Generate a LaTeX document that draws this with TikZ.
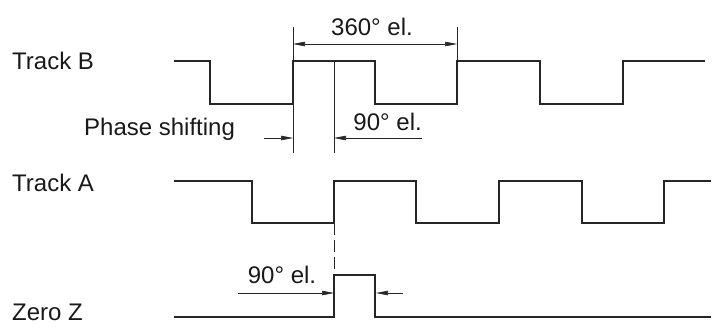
\documentclass[tikz,border=0pt]{standalone}
\usepackage{fontspec}
\setmainfont{Liberation Sans}
\usetikzlibrary{arrows.meta}
\begin{document}
\begin{tikzpicture}[x=1pt,y=-1pt,
  signal/.style={line width=1.5pt,line join=miter,color=black!85},
  thin/.style={line width=0.6pt,color=black!85},
  dimarrow/.style={thin,-{Stealth[length=12pt,width=4.5pt,inset=0pt]}},
  lbl/.style={inner sep=0pt,text height=17.2pt,text depth=0pt,font=\fontsize{24}{28}\selectfont,text=black!90}]
\useasboundingbox (0,0) rectangle (713,327);
% labels
\node[lbl,anchor=west] (tb) at (12,61) {Track B};
\node[lbl,anchor=west] (ta) at (12,183) {Track A};
\node[lbl,anchor=west] (zz) at (12,312) {Zero Z};
\node[lbl,anchor=west] (ps) at (84,127) {Phase shifting};
\node[lbl] (d360) at (372,27) {360° el.};
\node[lbl,anchor=east] (d90a) at (422,122) {90° el.};
\node[lbl] (d90b) at (282,275) {90° el.};
% waveforms
\draw[signal] (174,61) -- (210,61) -- (210,104) -- (293,104) -- (293,61) -- (375,61) -- (375,104) -- (457,104) -- (457,61) -- (540,61) -- (540,104) -- (623,104) -- (623,61) -- (705,61);
\draw[signal] (174,181) -- (252,181) -- (252,223) -- (334,223) -- (334,181) -- (416,181) -- (416,223) -- (499,223) -- (499,181) -- (582,181) -- (582,223) -- (664,223) -- (664,181) -- (711,181);
\draw[signal] (174,317) -- (334,317) -- (334,275) -- (375,275) -- (375,317) -- (711,317);
% extension lines
\coordinate (e1t) at (293,27); \coordinate (e1m) at (293,61);
\coordinate (e1l) at (293,104); \coordinate (e1b) at (293,153);
\coordinate (e2t) at (457,27); \coordinate (e2b) at (457,61);
\coordinate (e3t) at (334,61); \coordinate (e3b) at (334,153);
\draw[thin] (e1t) -- (e1m) (e1l) -- (e1b) (e2t) -- (e2b) (e3t) -- (e3b);
% dashed
\coordinate (dA) at (334,223); \coordinate (dZ) at (334,275);
\draw[thin,dash pattern=on 12pt off 5pt] (dA) -- (dZ);
% 360 dimension
\coordinate (a1) at (293,44); \coordinate (a2) at (457,44);
\draw[thin,{Stealth[length=12pt,width=4.5pt,inset=0pt]}-{Stealth[length=12pt,width=4.5pt,inset=0pt]}] (a1) -- (a2);
% phase shifting dimension
\coordinate (p1s) at (264,138); \coordinate (p1e) at (293,138);
\coordinate (p2s) at (422,138); \coordinate (p2e) at (334,138);
\draw[dimarrow] (p1s) -- (p1e);
\draw[dimarrow] (p2s) -- (p2e);
% zero dimension
\coordinate (z1s) at (238,293); \coordinate (z1e) at (334,293);
\coordinate (z2s) at (403,293); \coordinate (z2e) at (376,293);
\draw[dimarrow] (z1s) -- (z1e);
\draw[dimarrow] (z2s) -- (z2e);
\end{tikzpicture}
\end{document}
